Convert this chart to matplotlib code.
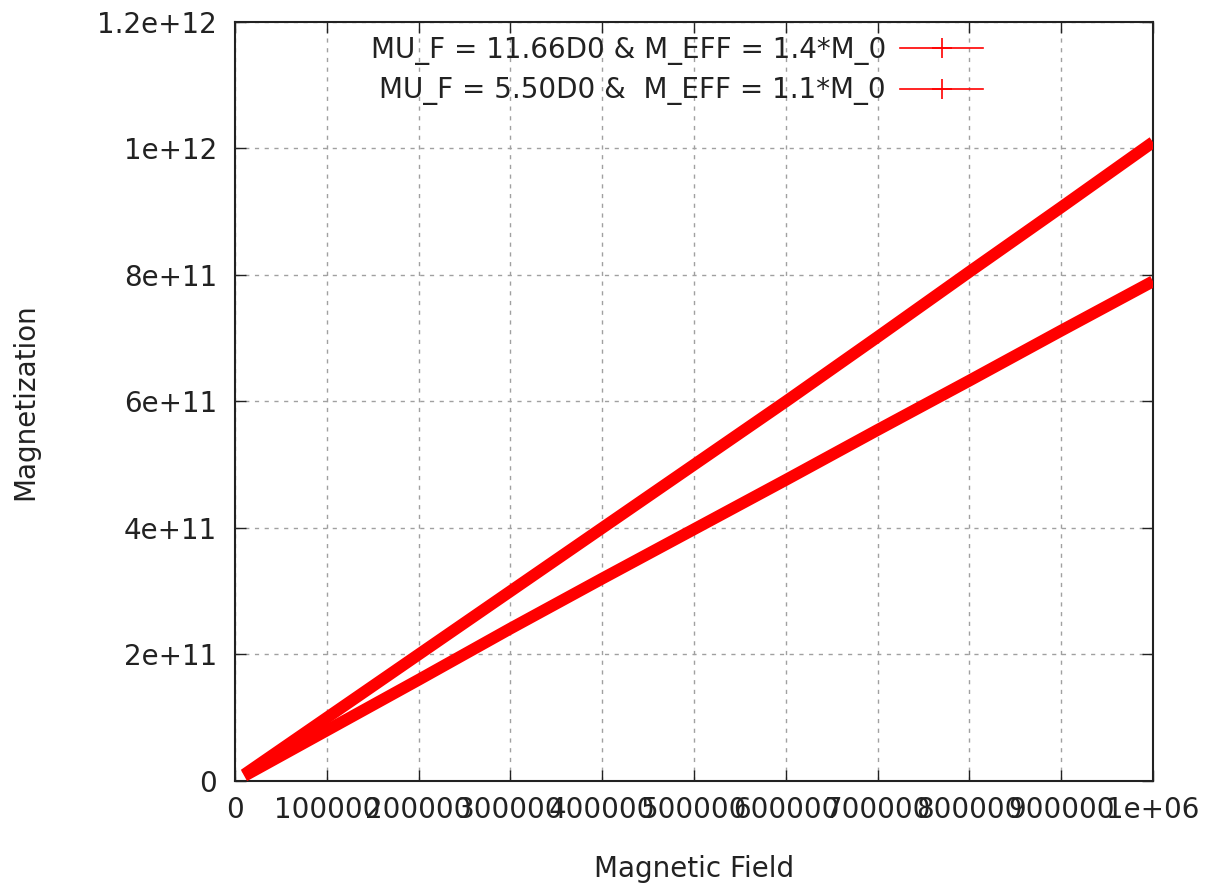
import matplotlib
matplotlib.use("Agg")
import matplotlib.pyplot as plt
from matplotlib.lines import Line2D

# data
field = [1e4, 5e4, 1e5, 2e5, 3e5, 4e5, 5e5, 6e5, 7e5, 8e5, 9e5, 1e6]
mag_high = [1.0e10, 5.0e10, 1.0e11, 2.0e11, 3.0e11, 4.0e11, 5.0e11, 6.0e11,
            7.02e11, 8.05e11, 9.07e11, 1.01e12]
mag_low = [0.8e10, 4.0e10, 0.8e11, 1.6e11, 2.41e11, 3.2e11, 3.98e11, 4.76e11,
           5.55e11, 6.33e11, 7.12e11, 7.9e11]
labels = ["MU_F = 11.66D0 & M_EFF = 1.4*M_0",
          "MU_F = 5.50D0 &  M_EFF = 1.1*M_0"]

xticks = [0, 1e5, 2e5, 3e5, 4e5, 5e5, 6e5, 7e5, 8e5, 9e5, 1e6]
xticklabels = ["0", "100000", "200000", "300000", "400000", "500000",
               "600000", "700000", "800000", "900000", "1e+06"]
yticks = [0, 2e11, 4e11, 6e11, 8e11, 1e12, 1.2e12]
yticklabels = ["0", "2e+11", "4e+11", "6e+11", "8e+11", "1e+12", "1.2e+12"]

plt.rcParams['font.family'] = ['DejaVu Sans']
fs = 20

fig = plt.figure(figsize=(12.09, 8.89), dpi=100)
ax = fig.add_axes([0.1944, 0.1215, 0.7593, 0.8538])

for m in (mag_high, mag_low):
    ax.plot(field, m, color='red', lw=8.5, solid_capstyle='butt', zorder=3)

ax.set_xlim(0, 1e6)
ax.set_ylim(0, 1.2e12)
ax.set_xticks(xticks)
ax.set_xticklabels(xticklabels)
ax.set_yticks(yticks)
ax.set_yticklabels(yticklabels)
ax.tick_params(direction='in', top=True, right=True, length=8, width=1,
               labelsize=fs, colors='#222222')
ax.tick_params(axis='x', pad=11)
ax.tick_params(axis='y', pad=13)
ax.grid(True, color='#a0a0a0', linestyle=(0, (3, 4)), linewidth=1)
for s in ax.spines.values():
    s.set_linewidth(1.5)
    s.set_color('#222222')

ax.set_xlabel("Magnetic Field", fontsize=fs, color='#222222', labelpad=22)
ax.set_ylabel("Magnetization", fontsize=fs, color='#222222', labelpad=42)

handles = [Line2D([], [], color='red', lw=1.2, marker='+', markersize=14,
                  markeredgewidth=1.2) for _ in labels]
leg = ax.legend(handles, labels, loc='upper right', bbox_to_anchor=(0.815, 0.982),
                frameon=False, markerfirst=False, fontsize=fs, handlelength=3.0,
                handletextpad=0.5, labelspacing=0.42, borderpad=0, borderaxespad=0)
for t in leg.get_texts():
    t.set_ha('right')
    t.set_color('#222222')

fig.savefig("out.png", dpi=100, facecolor='white')
